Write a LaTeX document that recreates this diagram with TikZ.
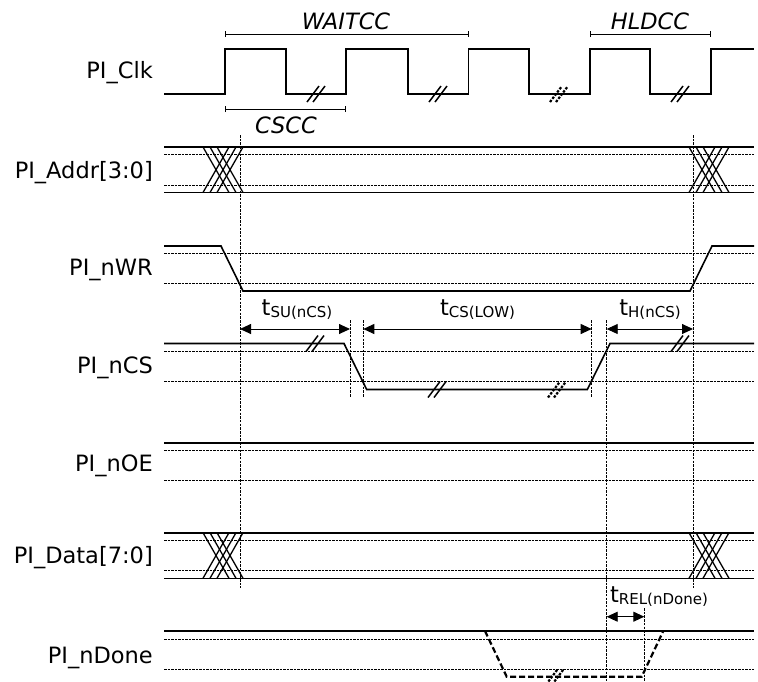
\documentclass[tikz,border=0pt]{standalone}
\usepackage{fontspec}
\setmainfont{DejaVu Sans}
\usetikzlibrary{arrows.meta}
\newcommand{\tsub}[2]{#1\raisebox{-2pt}{\fontsize{15}{17}\selectfont #2}}
\newcommand{\signalbreak}[3][]{\draw[breakmark,#1] (#2-9,#3+8) -- (#2+3,#3-8) (#2-3,#3+8) -- (#2+9,#3-8);}
\newcommand{\busswap}[3]{\foreach \k in {0,7,14} {\draw[swapline] (#1+\k,#2) -- (#1+\k+26,#3) (#1+\k,#3) -- (#1+\k+26,#2);}}

\begin{document}
\begin{tikzpicture}[x=1pt, y=-1pt,
  every node/.style={font=\fontsize{22.5}{26}\selectfont, inner sep=0pt},
  wave/.style={line width=1.6pt, line join=miter},
  thresh/.style={line width=0.8pt, dash pattern=on 2.5pt off 1pt},
  marker/.style={line width=1pt, dash pattern=on 2.5pt off 1.2pt},
  maybe/.style={line width=2.2pt, dash pattern=on 6pt off 3pt},
  breakmark/.style={line width=1.5pt},
  dotbreak/.style={dash pattern=on 2.5pt off 1.5pt, line width=2.2pt},
  swapline/.style={line width=1.3pt},
  bracket/.style={{Bar[width=6pt]}-{Bar[width=6pt]}, line width=0.8pt},
  dim/.style={{Triangle[length=11pt,width=10pt]}-{Triangle[length=11pt,width=10pt]}, line width=0.9pt},
  sig/.style={anchor=base east}
]
\useasboundingbox (0,0) rectangle (758,681);

% signal names
\node[sig] (clk) at (153,78) {PI\_Clk};
\node[sig] (addr) at (153,178) {PI\_Addr[3:0]};
\node[sig] (nwr) at (153,275) {PI\_nWR};
\node[sig] (ncs) at (153,373) {PI\_nCS};
\node[sig] (noe) at (153,471) {PI\_nOE};
\node[sig] (data) at (153,563) {PI\_Data[7:0]};
\node[sig] (ndone) at (153,663) {PI\_nDone};

% clock
\draw[wave] (164,94) -- (225,94) -- (225,49) -- (286,49) -- (286,94) -- (346,94)
  -- (346,49) -- (408,49) -- (408,94) -- (468.5,94) -- (468.5,49) -- (529,49)
  -- (529,94) -- (590,94) -- (590,49) -- (650,49) -- (650,94) -- (711,94)
  -- (711,49) -- (754,49);
\signalbreak{316}{94}
\signalbreak{438}{94}
\signalbreak[dotbreak]{559}{94}
\signalbreak{680}{94}

% cycle counts
\node (waitcc) at (346,21) {\itshape WAITCC};
\node (hldcc) at (650,21) {\itshape HLDCC};
\node (cscc) at (286,125) {\itshape CSCC};
\coordinate (wait-a) at (225,34);
\coordinate (wait-b) at (468.5,34);
\coordinate (hld-a) at (590,34);
\coordinate (hld-b) at (711,34);
\coordinate (cs-a) at (225,109);
\coordinate (cs-b) at (346,109);
\draw[bracket] (wait-a) -- (wait-b);
\draw[bracket] (hld-a) -- (hld-b);
\draw[bracket] (cs-a) -- (cs-b);

% address bus
\draw[thresh] (164,154.5) -- (754,154.5) (164,185) -- (754,185);
\draw[wave] (164,147) -- (754,147) (164,192.5) -- (754,192.5);
\busswap{203}{147}{192.5}
\busswap{689}{147}{192.5}

% write strobe
\draw[thresh] (164,253.5) -- (754,253.5) (164,283.5) -- (754,283.5);
\draw[wave] (164,246) -- (221,246) -- (243,291) -- (690,291) -- (712,246) -- (754,246);

% chip select
\draw[thresh] (164,351) -- (754,351) (164,381.5) -- (754,381.5);
\draw[wave] (164,343.5) -- (344,343.5) -- (366.7,389.5) -- (587.3,389.5) -- (610,343.5) -- (754,343.5);
\signalbreak{315}{343.5}
\signalbreak{437}{389.5}
\signalbreak[dotbreak]{557}{389.5}
\signalbreak{680}{343.5}

% output enable
\draw[thresh] (164,450) -- (754,450) (164,480) -- (754,480);
\draw[wave] (164,442.7) -- (754,442.7);

% data bus
\draw[thresh] (164,540) -- (754,540) (164,570.7) -- (754,570.7);
\draw[wave] (164,532.7) -- (754,532.7) (164,578.3) -- (754,578.3);
\busswap{203}{532.7}{578.3}
\busswap{689}{532.7}{578.3}

% done
\draw[thresh] (164,639) -- (754,639) (164,669) -- (754,669);
\draw[wave] (164,631) -- (754,631);
\draw[maybe] (485,631) -- (506.7,676.7) -- (641.7,676.7) -- (663.3,631);
\signalbreak[dotbreak]{555}{676.7}

% timing markers
\draw[marker] (240,135) -- (240,588);
\draw[marker] (693,135) -- (693,588);
\draw[marker] (606.7,320) -- (606.7,681);
\draw[marker] (644.3,608) -- (644.3,681);
\draw[marker] (350,320) -- (350,397);
\draw[marker] (363.3,320) -- (363.3,397);
\draw[marker] (591.7,320) -- (591.7,397);

% timing parameters
\coordinate (su-a) at (240,329);
\coordinate (su-b) at (350,329);
\coordinate (low-a) at (363.3,329);
\coordinate (low-b) at (591.7,329);
\coordinate (h-a) at (606.7,329);
\coordinate (h-b) at (693,329);
\coordinate (rel-a) at (606.7,616.7);
\coordinate (rel-b) at (644.3,616.7);
\draw[dim] (su-a) -- (su-b);
\draw[dim] (low-a) -- (low-b);
\draw[dim] (h-a) -- (h-b);
\draw[dim] (rel-a) -- (rel-b);
\node[anchor=base] (tsu) at (297,315) {\tsub{t}{SU(nCS)}};
\node[anchor=base] (tcs) at (477.5,315) {\tsub{t}{CS(LOW)}};
\node[anchor=base] (th) at (650,315) {\tsub{t}{H(nCS)}};
\node[anchor=base] (trel) at (659,602) {\tsub{t}{REL(nDone)}};
\end{tikzpicture}
\end{document}
